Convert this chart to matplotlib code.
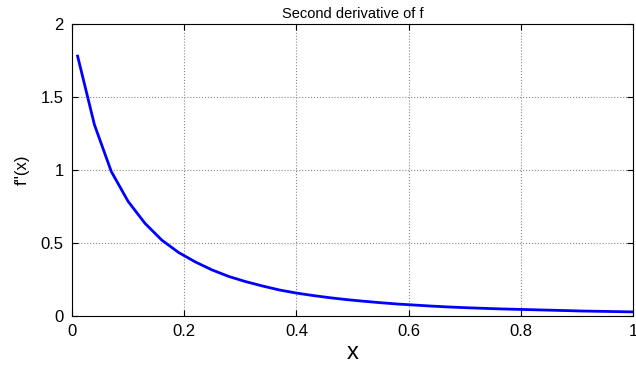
import numpy as np
import matplotlib.pyplot as plt

# values
x_vals = [0.01, 0.04, 0.07, 0.10, 0.13, 0.16, 0.19, 0.22, 0.25, 0.28,
          0.31, 0.34, 0.37, 0.40, 0.43, 0.46, 0.49, 0.52, 0.55, 0.58,
          0.61, 0.64, 0.67, 0.70, 0.73, 0.76, 0.79, 0.82, 0.85, 0.88,
          0.91, 0.94, 0.97, 1.00]
y_vals = [1.78, 1.31, 0.99, 0.785, 0.635, 0.52, 0.435, 0.37, 0.315, 0.27,
          0.235, 0.205, 0.178, 0.157, 0.140, 0.125, 0.112, 0.101, 0.091, 0.082,
          0.075, 0.068, 0.062, 0.057, 0.053, 0.049, 0.046, 0.043, 0.040, 0.037,
          0.034, 0.032, 0.030, 0.028]
x_ticks = [0, 0.2, 0.4, 0.6, 0.8, 1]
x_ticklabels = ['0', '0.2', '0.4', '0.6', '0.8', '1']
y_ticks = [0, 0.5, 1, 1.5, 2]
y_ticklabels = ['0', '0.5', '1', '1.5', '2']

plt.rcParams['font.family'] = ['Liberation Sans', 'DejaVu Sans']

fig = plt.figure(figsize=(6.36, 3.76), dpi=100)
ax = fig.add_axes([0.1132, 0.1596, 0.8821, 0.7766])

ax.plot(x_vals, y_vals, color='#0000ff', lw=2)

ax.set_xlim(0, 1)
ax.set_ylim(0, 2)
ax.set_xticks(x_ticks)
ax.set_xticklabels(x_ticklabels)
ax.set_yticks(y_ticks)
ax.set_yticklabels(y_ticklabels)
ax.tick_params(direction='in', top=True, right=True, labelsize=12,
               length=4, width=0.8, pad=6)
ax.grid(True, linestyle=':', color='#888888', lw=0.8)
for s in ax.spines.values():
    s.set_linewidth(0.8)

ax.set_title('Second derivative of f', fontsize=10.5, pad=4)
ax.set_xlabel('x', fontsize=17, labelpad=2)
ax.set_ylabel("f''(x)", fontsize=12, labelpad=8)

fig.savefig('out.png', dpi=100)
